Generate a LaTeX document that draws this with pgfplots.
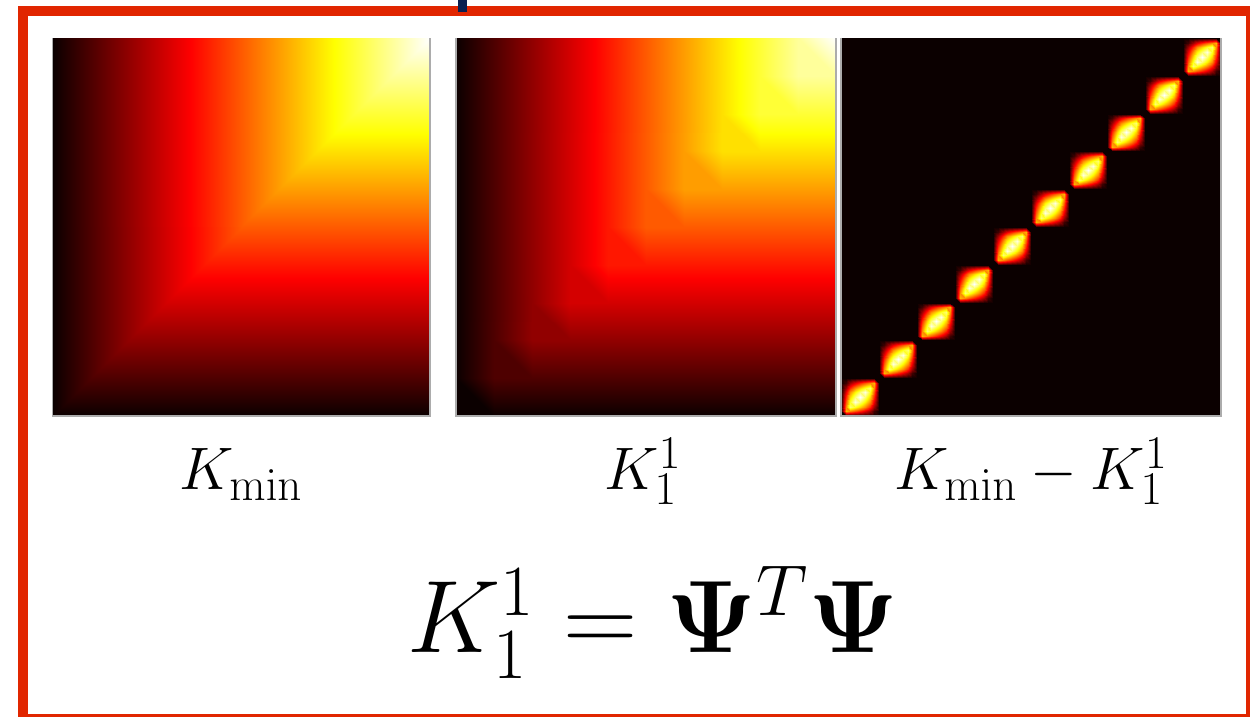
\RequirePackage{fix-cm}
\documentclass[border=0pt]{standalone}
\usepackage{pgfplots}
\pgfplotsset{compat=1.18}
\usepackage{pgfplotstable}

\DeclareMathSizes{30}{30}{23.5}{17}

\definecolor{framered}{RGB}{225,38,0}
\definecolor{inkblue}{RGB}{10,32,80}
\definecolor{hotlow}{RGB}{11,0,0}

% K_min = min(s,t) on [0,10]^2 (value scaled to [0,1]): linear on the two triangles
\pgfplotstableread{
x  y  k
0  0  0
10 0  0
10 10 1
0  0  0
10 10 1
0  10 0
}\kmintri

% diagonal cells of the piecewise-bilinear approximation K_1^1
\pgfplotstableread{
x  y  k
0  0  0.0
1  0  0.0
1  1  0.1
0  1  0.0
1  1  0.1
2  1  0.1
2  2  0.2
1  2  0.1
2  2  0.2
3  2  0.2
3  3  0.3
2  3  0.2
3  3  0.3
4  3  0.3
4  4  0.4
3  4  0.3
4  4  0.4
5  4  0.4
5  5  0.5
4  5  0.4
5  5  0.5
6  5  0.5
6  6  0.6
5  6  0.5
6  6  0.6
7  6  0.6
7  7  0.7
6  7  0.6
7  7  0.7
8  7  0.7
8  8  0.8
7  8  0.7
8  8  0.8
9  8  0.8
9  9  0.9
8  9  0.8
9  9  0.9
10 9  0.9
10 10 1.0
9  10 0.9
}\kdiag

% colour level of K_min - K_1^1 inside one diagonal cell (local coords)
\pgfplotstableread{
u     v     z
0     0     0
0.125 0     0
0.25  0     0
0.375 0     0
0.5   0     0
0.625 0     0
0.75  0     0
0.875 0     0
1     0     0
0     0.125 0
0.125 0.125 0.63
0.25  0.125 0.57
0.375 0.125 0.50
0.5   0.125 0.42
0.625 0.125 0.33
0.75  0.125 0.22
0.875 0.125 0.08
1     0.125 0
0     0.25  0
0.125 0.25  0.57
0.25  0.25  0.86
0.375 0.25  0.78
0.5   0.25  0.68
0.625 0.25  0.57
0.75  0.25  0.42
0.875 0.25  0.22
1     0.25  0
0     0.375 0
0.125 0.375 0.50
0.25  0.375 0.78
0.375 0.375 0.97
0.5   0.375 0.86
0.625 0.375 0.73
0.75  0.375 0.57
0.875 0.375 0.33
1     0.375 0
0     0.5   0
0.125 0.5   0.42
0.25  0.5   0.68
0.375 0.5   0.86
0.5   0.5   1
0.625 0.5   0.86
0.75  0.5   0.68
0.875 0.5   0.42
1     0.5   0
0     0.625 0
0.125 0.625 0.33
0.25  0.625 0.57
0.375 0.625 0.73
0.5   0.625 0.86
0.625 0.625 0.97
0.75  0.625 0.78
0.875 0.625 0.50
1     0.625 0
0     0.75  0
0.125 0.75  0.22
0.25  0.75  0.42
0.375 0.75  0.57
0.5   0.75  0.68
0.625 0.75  0.78
0.75  0.75  0.86
0.875 0.75  0.57
1     0.75  0
0     0.875 0
0.125 0.875 0.08
0.25  0.875 0.22
0.375 0.875 0.33
0.5   0.875 0.42
0.625 0.875 0.50
0.75  0.875 0.57
0.875 0.875 0.63
1     0.875 0
0     1     0
0.125 1     0
0.25  1     0
0.375 1     0
0.5   1     0
0.625 1     0
0.75  1     0
0.875 1     0
1     1     0
}\blob

\pgfplotsset{
  heat/.style={
    scale only axis, height=189pt, anchor=south west,
    xmin=0, xmax=10, ymin=0, ymax=10,
    axis lines=none, ticks=none, clip=false,
    colormap={mathot}{[1pt] rgb255(0pt)=(11,0,0); rgb255(23pt)=(255,0,0);
                      rgb255(47pt)=(255,255,0); rgb255(63pt)=(255,255,255)},
    point meta min=0, point meta max=1,
  },
}
\tikzset{edge/.style={gray!65, line width=0.6pt}}

\begin{document}
\begin{tikzpicture}
\useasboundingbox (0,0) rectangle (625pt,358.5pt);
\clip (0,0) rectangle (625pt,358.5pt);

% K_min
\begin{axis}[heat, at={(26.25pt,150.5pt)}, width=188.75pt]
  \addplot[patch, patch type=triangle, shader=interp, point meta=explicit]
    table[x=x, y=y, meta=k] {\kmintri};
  \draw[edge] (rel axis cs:0,1) -- (rel axis cs:0,0) -- (rel axis cs:1,0) -- (rel axis cs:1,1);
\end{axis}

% K_1^1
\begin{axis}[heat, at={(228pt,150.5pt)}, width=190pt]
  \addplot[patch, patch type=triangle, shader=interp, point meta=explicit]
    table[x=x, y=y, meta=k] {\kmintri};
  \addplot[patch, patch type=rectangle, shader=interp, point meta=explicit]
    table[x=x, y=y, meta=k] {\kdiag};
  \draw[edge] (rel axis cs:0,1) -- (rel axis cs:0,0) -- (rel axis cs:1,0) -- (rel axis cs:1,1);
\end{axis}

% K_min - K_1^1
\begin{axis}[heat, at={(420.5pt,150.5pt)}, width=190pt,
    axis background/.style={fill=hotlow}]
  \pgfplotsinvokeforeach{0,...,9}{
    \addplot[surf, shader=interp, mesh/cols=9, point meta=explicit]
      table[x expr=\thisrow{u}+#1, y expr=\thisrow{v}+#1, meta=z] {\blob};
  }
  \draw[edge] (rel axis cs:0,1) -- (rel axis cs:0,0) -- (rel axis cs:1,0) -- (rel axis cs:1,1);
\end{axis}

% captions
\node[anchor=base, font=\fontsize{30}{36}\selectfont] at (120.5pt,113.5pt) {$K_{\min}$};
\node[anchor=base, font=\fontsize{30}{36}\selectfont] at (321.5pt,113.5pt) {$K_1^1$};
\node[anchor=base, font=\fontsize{30}{36}\selectfont] at (515.5pt,113.5pt) {$K_{\min}-K_1^1$};
\node[anchor=base, font=\fontsize{51.5}{60}\selectfont] at (326.5pt,32pt) {$K_1^1=\mathbf{\Psi}^T\mathbf{\Psi}$};

% frame
\draw[framered, line width=5pt] (11.5pt,353pt) rectangle (625.5pt,-1pt);
\fill[inkblue] (229pt,358.5pt) rectangle (233.5pt,352.25pt);
\end{tikzpicture}
\end{document}
